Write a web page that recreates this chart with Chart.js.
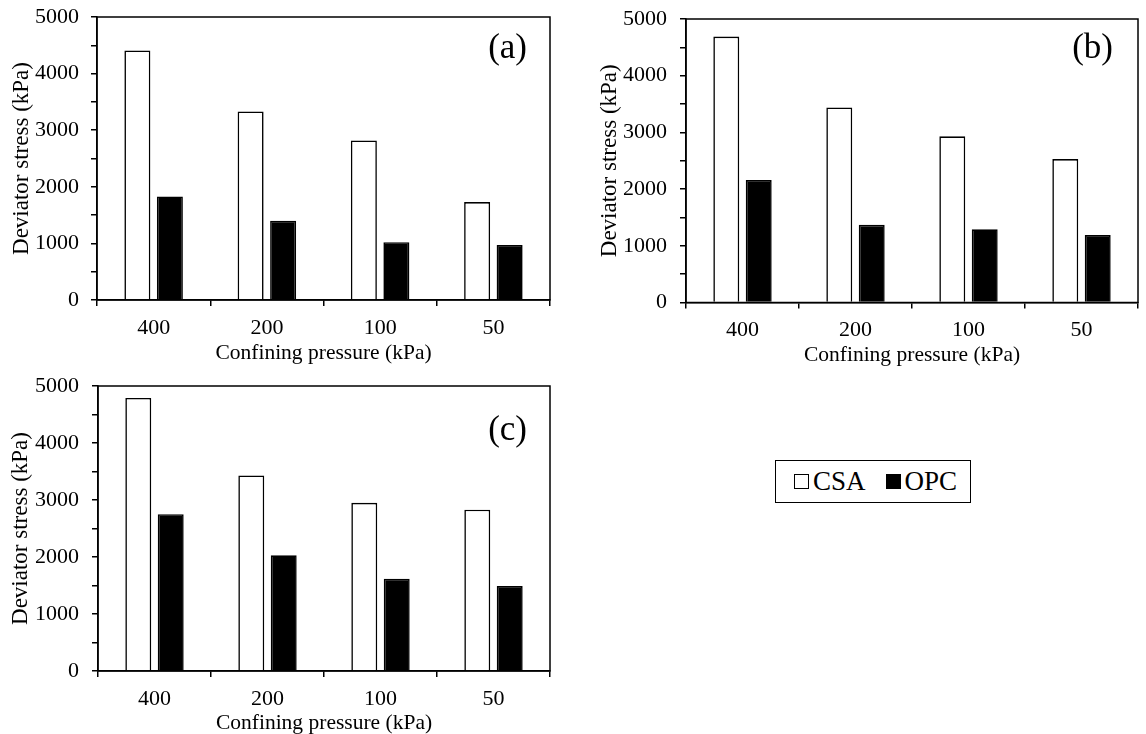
<!DOCTYPE html>
<html>
<head>
<meta charset="utf-8">
<script src="https://cdn.jsdelivr.net/npm/chart.js@4.4.1/dist/chart.umd.min.js"></script>
<style>
  html, body { margin: 0; padding: 0; background: #fff; overflow: hidden; }
  body { width: 1146px; height: 734px; position: relative; font-family: "Liberation Serif", "Times New Roman", serif; }
  canvas { position: absolute; }
  .panel { position: absolute; font-size: 35px; line-height: 35px; color: #000; text-align: right; width: 80px; }
  #legend { position: absolute; left: 775px; top: 460px; width: 194px; height: 41px; border: 1.5px solid #000;
            display: flex; align-items: center; font-size: 27px; color: #000; }
  #legend .item { display: flex; align-items: center; }
  #legend .box { width: 13px; height: 13px; border: 1.5px solid #000; margin-right: 4px; }
</style>
</head>
<body>
<canvas id="chartA" width="560" height="372" style="left:0;top:0"></canvas>
<canvas id="chartB" width="566" height="375" style="left:580px;top:0"></canvas>
<canvas id="chartC" width="560" height="380" style="left:0;top:366px"></canvas>
<div class="panel" style="left:447px;top:29px">(a)</div>
<div class="panel" style="left:1033px;top:29px">(b)</div>
<div class="panel" style="left:447px;top:411px">(c)</div>
<div id="legend"></div>
<script>
const categories = ["400", "200", "100", "50"];
const seriesNames = ["CSA", "OPC"];
const seriesFill = ["#ffffff", "#000000"];

// deviator stress (kPa) per confining pressure
const csaA = [4410, 3330, 2820, 1730];
const opcA = [1830, 1400, 1020, 970];
const csaB = [4690, 3440, 2930, 2530];
const opcB = [2160, 1370, 1290, 1190];
const csaC = [4790, 3430, 2950, 2830];
const opcC = [2750, 2030, 1620, 1490];

const yTicks = [0, 1000, 2000, 3000, 4000, 5000];

const font = "'Liberation Serif', 'Times New Roman', serif";

const frame = {
  id: "frame",
  afterDraw(chart) {
    const a = chart.chartArea;
    const ctx = chart.ctx;
    ctx.save();
    ctx.strokeStyle = "#000";
    ctx.lineWidth = 1.5;
    ctx.strokeRect(a.left, a.top, a.right - a.left, a.bottom - a.top);
    ctx.restore();
  }
};

function makeChart(id, csa, opc, lay) {
  const ctx = document.getElementById(id).getContext("2d");
  return new Chart(ctx, {
    type: "bar",
    data: {
      labels: categories,
      datasets: [csa, opc].map((d, i) => ({
        label: seriesNames[i],
        data: d,
        backgroundColor: seriesFill[i],
        borderColor: "#000",
        borderWidth: 1.6,
        barPercentage: 0.8,
        categoryPercentage: 0.574
      }))
    },
    options: {
      responsive: false,
      animation: false,
      devicePixelRatio: 1,
      layout: { padding: { left: 0, top: lay.top, right: lay.right, bottom: 0 } },
      plugins: { legend: { display: false }, tooltip: { enabled: false } },
      scales: {
        x: {
          afterFit: (s) => { s.height = lay.xHeight; s.paddingLeft = 0; s.paddingRight = 0; },
          grid: { drawOnChartArea: false, color: "#000", lineWidth: 1.5, tickLength: 6 },
          border: { color: "#000", width: 1.5 },
          ticks: { color: "#000", padding: 9, font: { family: font, size: 22 }, maxRotation: 0 },
          title: { display: true, text: "Confining pressure (kPa)", color: "#000",
                   font: { family: font, size: 21.5, lineHeight: 1 }, padding: { top: 0, bottom: lay.xTitlePad } }
        },
        y: {
          min: 0, max: 5000,
          afterFit: (s) => { s.width = lay.yWidth; s.paddingTop = 0; s.paddingBottom = 0; },
          grid: { drawOnChartArea: false, color: "#000", lineWidth: 1.5, tickLength: 6 },
          border: { color: "#000", width: 1.5 },
          ticks: {
            stepSize: 500, autoSkip: false, color: "#000", padding: lay.yTickPad,
            font: { family: font, size: 22 },
            callback: (v) => (yTicks.includes(v) ? String(v) : "")
          },
          title: { display: true, text: "Deviator stress (kPa)", color: "#000",
                   font: { family: font, size: 23, lineHeight: 1 }, padding: { top: lay.yTitlePad, bottom: 0 } }
        }
      }
    },
    plugins: [frame]
  });
}

makeChart("chartA", csaA, opcA, { top: 17, right: 10, xHeight: 72, yWidth: 97, yTickPad: 12, yTitlePad: 10, xTitlePad: 8 });
makeChart("chartB", csaB, opcB, { top: 19, right: 8, xHeight: 72.5, yWidth: 106, yTickPad: 13, yTitlePad: 18, xTitlePad: 8.5 });
makeChart("chartC", csaC, opcC, { top: 20, right: 10, xHeight: 75, yWidth: 98, yTickPad: 13, yTitlePad: 9, xTitlePad: 12 });

// legend box built from the series names
const legend = document.getElementById("legend");
seriesNames.forEach((name, i) => {
  const item = document.createElement("div");
  item.className = "item";
  item.style.marginLeft = i === 0 ? "18px" : "20px";
  const box = document.createElement("span");
  box.className = "box";
  box.style.background = seriesFill[i];
  const txt = document.createElement("span");
  txt.textContent = name;
  item.appendChild(box);
  item.appendChild(txt);
  legend.appendChild(item);
});
</script>
</body>
</html>
